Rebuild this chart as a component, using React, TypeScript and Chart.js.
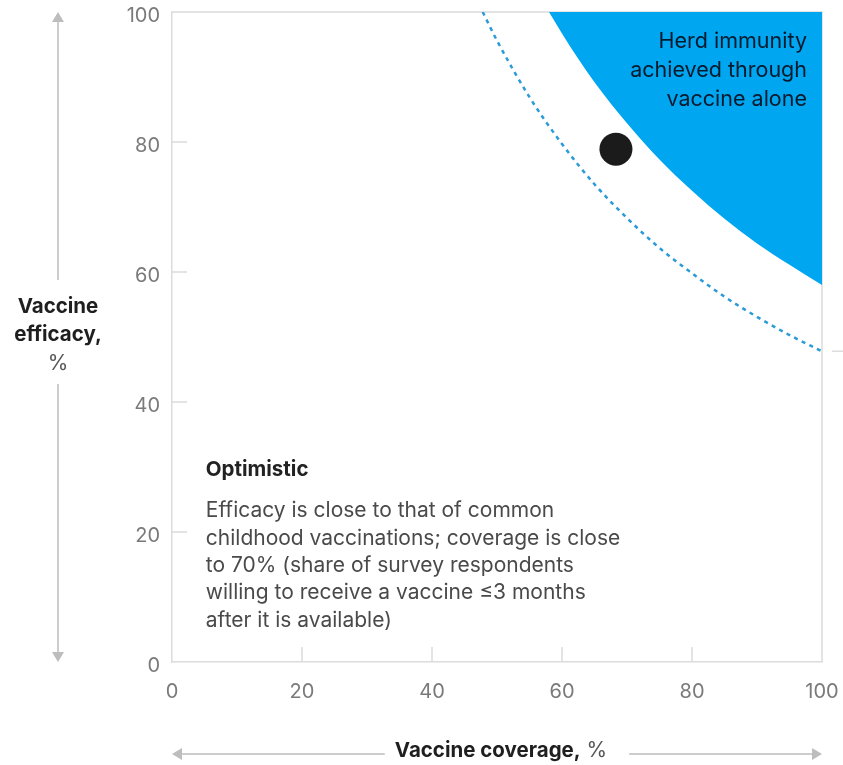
import React, { useEffect, useRef } from 'react';
import { Chart, registerables } from 'chart.js';

Chart.register(...registerables);

// ---- data ----
const herdCoverage = [58, 60, 62.5, 65, 70, 75, 80, 85, 90, 95, 100];
const herdEfficacy = [100, 96.7, 92.8, 89.2, 82.9, 77.3, 72.5, 68.2, 64.4, 61.1, 58.0];
const thresholdCoverage = [47.8, 50, 55, 60, 65, 70, 75, 80, 85, 90, 95, 100];
const thresholdEfficacy = [100, 95.6, 86.9, 79.7, 73.5, 68.3, 63.7, 59.8, 56.2, 53.1, 50.3, 47.8];
const scenarioCoverage = [68.3];
const scenarioEfficacy = [78.9];
const axisTicks = [0, 20, 40, 60, 80, 100];
const herdLabel = ['Herd immunity', 'achieved through', 'vaccine alone'];
const scenarioTitle = 'Optimistic';
const scenarioText = [
  'Efficacy is close to that of common',
  'childhood vaccinations; coverage is close',
  'to 70% (share of survey respondents',
  'willing to receive a vaccine \u22643 months',
  'after it is available)',
];
const yTitleBold = ['Vaccine', 'efficacy,'];
const yTitleUnit = '%';
const xTitleBold = 'Vaccine coverage,';
const xTitleUnit = ' %';

const BLUE = '#00a6ef';
const DASH = '#2a9ad8';
const GRID = '#dcdcdc';
const ARROW = '#bdbdbd';
const FONT = 'Inter, "Noto Sans", sans-serif';

function arrowHead(ctx: CanvasRenderingContext2D, tx: number, ty: number, dir: 'up' | 'down' | 'left' | 'right') {
  const L = 10, W = 6;
  ctx.beginPath();
  ctx.moveTo(tx, ty);
  if (dir === 'up') { ctx.lineTo(tx - W, ty + L); ctx.lineTo(tx + W, ty + L); }
  if (dir === 'down') { ctx.lineTo(tx - W, ty - L); ctx.lineTo(tx + W, ty - L); }
  if (dir === 'left') { ctx.lineTo(tx + L, ty - W); ctx.lineTo(tx + L, ty + W); }
  if (dir === 'right') { ctx.lineTo(tx - L, ty - W); ctx.lineTo(tx - L, ty + W); }
  ctx.closePath();
  ctx.fill();
}

const overlay = {
  id: 'overlay',
  beforeDatasetsDraw(chart: any) {
    const { ctx, chartArea: a, scales } = chart;
    const x = scales.x, y = scales.y;
    ctx.save();
    ctx.strokeStyle = GRID;
    ctx.lineWidth = 1.5;
    ctx.beginPath();
    ctx.moveTo(a.left, a.top);
    ctx.lineTo(a.right, a.top);
    ctx.lineTo(a.right, a.bottom);
    axisTicks.slice(1, -1).forEach((v) => {
      const py = y.getPixelForValue(v);
      ctx.moveTo(a.left, py);
      ctx.lineTo(a.left + 15, py);
      const px = x.getPixelForValue(v);
      ctx.moveTo(px, a.bottom);
      ctx.lineTo(px, a.bottom - 15);
    });
    // small marker at end of threshold line, outside plot
    const ey = y.getPixelForValue(thresholdEfficacy[thresholdEfficacy.length - 1]);
    ctx.moveTo(a.right + 10, ey);
    ctx.lineTo(a.right + 21, ey);
    ctx.stroke();
    ctx.restore();
  },
  afterDraw(chart: any) {
    const { ctx, chartArea: a, scales } = chart;
    const x = scales.x;
    ctx.save();
    ctx.textBaseline = 'middle';

    // herd immunity label
    ctx.fillStyle = '#061a2e';
    ctx.font = `400 21.5px ${FONT}`;
    ctx.textAlign = 'right';
    herdLabel.forEach((t, i) => ctx.fillText(t, a.right - 15, a.top + 30 + i * 29));

    // scenario text
    const sx = x.getPixelForValue(5.2);
    ctx.textAlign = 'left';
    ctx.fillStyle = '#222222';
    ctx.font = `700 20.5px ${FONT}`;
    ctx.fillText(scenarioTitle, sx, a.top + 458);
    ctx.fillStyle = '#4a4a4a';
    ctx.font = `400 21px ${FONT}`;
    scenarioText.forEach((t, i) => ctx.fillText(t, sx, a.top + 499 + i * 27.3));

    // y axis title
    const tx = 58;
    ctx.textAlign = 'center';
    ctx.fillStyle = '#1f1f1f';
    ctx.font = `700 20.5px ${FONT}`;
    ctx.fillText(yTitleBold[0], tx, 307);
    ctx.fillText(yTitleBold[1], tx, 335);
    ctx.fillStyle = '#555555';
    ctx.font = `400 21px ${FONT}`;
    ctx.fillText(yTitleUnit, tx, 364);

    // vertical arrow
    ctx.strokeStyle = ARROW;
    ctx.fillStyle = ARROW;
    ctx.lineWidth = 1.5;
    ctx.beginPath();
    ctx.moveTo(tx, a.top + 8);
    ctx.lineTo(tx, 280);
    ctx.moveTo(tx, 384);
    ctx.lineTo(tx, a.bottom - 6);
    ctx.stroke();
    arrowHead(ctx, tx, a.top, 'up');
    arrowHead(ctx, tx, a.bottom, 'down');

    // x axis title
    const ty = 751;
    ctx.font = `700 20.5px ${FONT}`;
    const wb = ctx.measureText(xTitleBold).width;
    ctx.font = `400 21px ${FONT}`;
    const wu = ctx.measureText(xTitleUnit).width;
    const cx = (a.left + a.right) / 2 + 4;
    const start = cx - (wb + wu) / 2;
    ctx.textAlign = 'left';
    ctx.fillStyle = '#1f1f1f';
    ctx.font = `700 20.5px ${FONT}`;
    ctx.fillText(xTitleBold, start, ty);
    ctx.fillStyle = '#555555';
    ctx.font = `400 21px ${FONT}`;
    ctx.fillText(xTitleUnit, start + wb, ty);

    // horizontal arrow
    ctx.strokeStyle = ARROW;
    ctx.fillStyle = ARROW;
    ctx.beginPath();
    ctx.moveTo(a.left + 8, ty + 3);
    ctx.lineTo(start - 10, ty + 3);
    ctx.moveTo(start + wb + wu + 22, ty + 3);
    ctx.lineTo(a.right - 6, ty + 3);
    ctx.stroke();
    arrowHead(ctx, a.left, ty + 3, 'left');
    arrowHead(ctx, a.right, ty + 3, 'right');

    ctx.restore();
  },
};

const zeroPad = (s: any) => {
  s.paddingLeft = 0;
  s.paddingRight = 0;
  s.paddingTop = 0;
  s.paddingBottom = 0;
};

export default function App() {
  const ref = useRef<HTMLCanvasElement | null>(null);

  useEffect(() => {
    document.body.style.margin = '0';
    if (!ref.current) return;
    const toPts = (xs: number[], ys: number[]) => xs.map((v, i) => ({ x: v, y: ys[i] }));
    const chart = new Chart(ref.current, {
      type: 'scatter',
      data: {
        datasets: [
          {
            data: toPts(herdCoverage, herdEfficacy),
            showLine: true,
            fill: 'end',
            backgroundColor: BLUE,
            borderColor: BLUE,
            borderWidth: 0,
            pointRadius: 0,
            cubicInterpolationMode: 'monotone',
          },
          {
            data: toPts(thresholdCoverage, thresholdEfficacy),
            showLine: true,
            fill: false,
            borderColor: DASH,
            borderWidth: 2.5,
            borderDash: [4, 4.5],
            pointRadius: 0,
            cubicInterpolationMode: 'monotone',
          },
          {
            data: toPts(scenarioCoverage, scenarioEfficacy),
            showLine: false,
            pointRadius: 16.5,
            pointHoverRadius: 16.5,
            pointBackgroundColor: '#1b1b1b',
            pointBorderWidth: 0,
          },
        ],
      } as any,
      options: {
        animation: false,
        responsive: false,
        events: [],
        layout: { autoPadding: false, padding: { left: 102, top: 12, right: 21, bottom: 53 } },
        plugins: { legend: { display: false }, tooltip: { enabled: false } },
        scales: {
          x: {
            type: 'linear',
            min: 0,
            max: 100,
            afterFit: (s: any) => { s.height = 50; zeroPad(s); },
            afterBuildTicks: (s: any) => { s.ticks = axisTicks.map((v) => ({ value: v })); },
            ticks: { color: '#7a7a7a', font: { family: FONT, size: 20, weight: 400 }, padding: 18 },
            grid: { display: false, drawTicks: false },
            border: { display: true, color: GRID, width: 1.5 },
          },
          y: {
            type: 'linear',
            min: 0,
            max: 100,
            afterFit: (s: any) => { s.width = 70; zeroPad(s); },
            afterBuildTicks: (s: any) => { s.ticks = axisTicks.map((v) => ({ value: v })); },
            ticks: { color: '#7a7a7a', font: { family: FONT, size: 20, weight: 400 }, padding: 12, labelOffset: 4 },
            grid: { display: false, drawTicks: false },
            border: { display: true, color: GRID, width: 1.5 },
          },
        },
      } as any,
      plugins: [overlay],
    });
    return () => chart.destroy();
  }, []);

  return <canvas ref={ref} width={843} height={765} style={{ display: 'block' }} />;
}
